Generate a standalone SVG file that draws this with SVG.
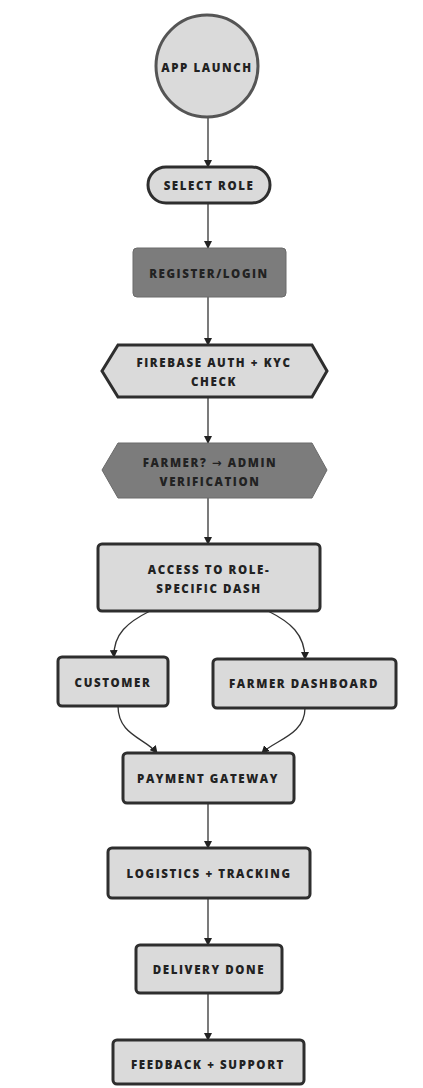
<svg xmlns="http://www.w3.org/2000/svg" width="423" height="1088" viewBox="0 0 423 1088">
<defs>
<style>
.n{fill:#dadada;stroke:#2e2e2e;stroke-width:3}
.d{fill:#7c7c7c;stroke:#6a6a6a;stroke-width:1}
.t{font-family:"Open Sans","DejaVu Sans",sans-serif;font-weight:800;font-size:11.5px;letter-spacing:1.6px;fill:#222;text-anchor:middle;dominant-baseline:central}
.c{fill:none;stroke:#333;stroke-width:1.3}
</style>
<marker id="a" markerWidth="8" markerHeight="8" refX="7" refY="4" orient="auto" markerUnits="userSpaceOnUse">
<path d="M0,0 L8,4 L0,8 Z" fill="#222"/>
</marker>
</defs>
<rect width="423" height="1088" fill="#fff"/>
<g id="connectors">
<path class="c" d="M208,118 V167" marker-end="url(#a)"/>
<path class="c" d="M208,203 V248" marker-end="url(#a)"/>
<path class="c" d="M208,297 V345" marker-end="url(#a)"/>
<path class="c" d="M208,397 V443" marker-end="url(#a)"/>
<path class="c" d="M208,498 V544" marker-end="url(#a)"/>
<path class="c" d="M150,611 C128,622 113,634 114,657" marker-end="url(#a)"/>
<path class="c" d="M268,611 C290,622 305,634 305,659" marker-end="url(#a)"/>
<path class="c" d="M118,706 C118,735 145,738 157,753" marker-end="url(#a)"/>
<path class="c" d="M305,708 C305,735 275,740 262,753" marker-end="url(#a)"/>
<path class="c" d="M208,803 V848" marker-end="url(#a)"/>
<path class="c" d="M208,898 V945" marker-end="url(#a)"/>
<path class="c" d="M208,993 V1040" marker-end="url(#a)"/>
</g>
<g id="app-launch">
<circle class="n" cx="207" cy="66" r="51" style="stroke:#555"/>
<text class="t" x="207" y="67">APP LAUNCH</text>
</g>
<g id="select-role">
<rect class="n" x="148" y="167" width="122" height="36" rx="18"/>
<text class="t" x="209" y="185">SELECT ROLE</text>
</g>
<g id="register-login">
<rect class="d" x="133" y="248" width="153" height="49" rx="4"/>
<text class="t" x="209" y="273">REGISTER/LOGIN</text>
</g>
<g id="firebase-auth">
<polygon class="n" points="118,345 312,345 327,371 312,397 118,397 102,371"/>
<text class="t" x="214" y="362">FIREBASE AUTH + KYC</text>
<text class="t" x="214" y="381">CHECK</text>
</g>
<g id="farmer-verification">
<polygon class="d" points="118,443 312,443 327,470 312,498 118,498 102,470"/>
<text class="t" x="210" y="462">FARMER? → ADMIN</text>
<text class="t" x="210" y="481">VERIFICATION</text>
</g>
<g id="access-dash">
<rect class="n" x="98" y="544" width="222" height="67" rx="4"/>
<text class="t" x="209" y="569">ACCESS TO ROLE-</text>
<text class="t" x="209" y="588">SPECIFIC DASH</text>
</g>
<g id="customer">
<rect class="n" x="58" y="657" width="110" height="49" rx="4"/>
<text class="t" x="113" y="682">CUSTOMER</text>
</g>
<g id="farmer-dashboard">
<rect class="n" x="213" y="659" width="183" height="49" rx="4"/>
<text class="t" x="304" y="683">FARMER DASHBOARD</text>
</g>
<g id="payment-gateway">
<rect class="n" x="123" y="753" width="171" height="50" rx="4"/>
<text class="t" x="208" y="778">PAYMENT GATEWAY</text>
</g>
<g id="logistics">
<rect class="n" x="108" y="848" width="202" height="50" rx="4"/>
<text class="t" x="209" y="873">LOGISTICS + TRACKING</text>
</g>
<g id="delivery-done">
<rect class="n" x="136" y="945" width="146" height="48" rx="4"/>
<text class="t" x="209" y="969">DELIVERY DONE</text>
</g>
<g id="feedback">
<rect class="n" x="113" y="1040" width="191" height="44" rx="4"/>
<text class="t" x="208" y="1064">FEEDBACK + SUPPORT</text>
</g>
</svg>
